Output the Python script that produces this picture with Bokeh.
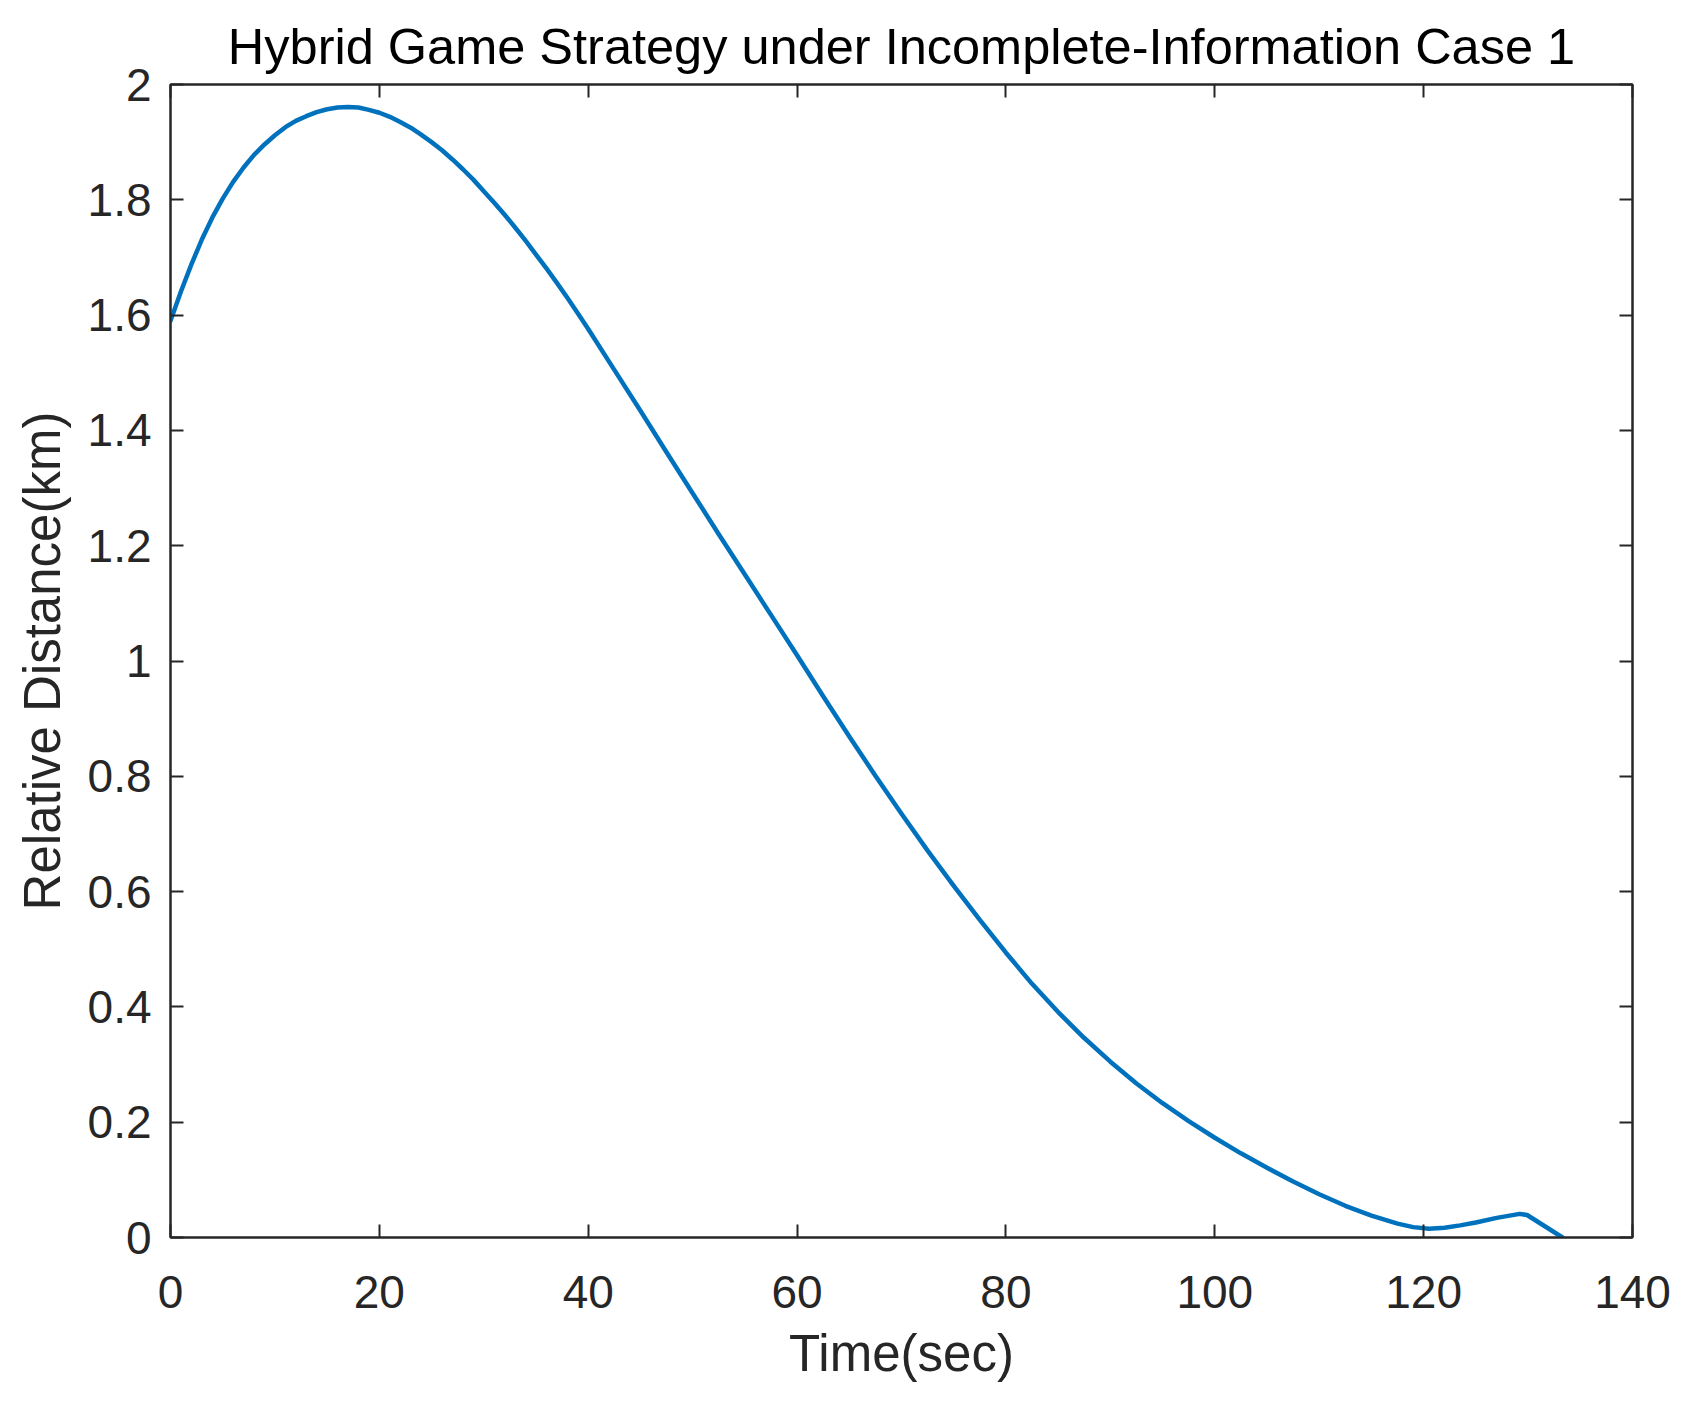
from bokeh.plotting import figure
from bokeh.models import (LinearAxis, FixedTicker, CustomJSTickFormatter, Range1d,
                          ColumnDataSource, Title)
from bokeh.embed import file_html
from bokeh.resources import INLINE

# ---- data ----
time_sec = [0, 1, 2, 3, 4, 5, 6, 7, 8, 9, 10, 11, 12, 13, 14, 15, 16, 17, 18, 19, 20,
            21, 22, 23, 24, 25, 26, 27, 28, 29, 30, 31, 32, 33, 34, 35, 36, 37, 38, 39, 40,
            42.5, 45, 47.5, 50, 52.5, 55, 57.5, 60, 62.5, 65, 67.5, 70, 72.5, 75, 77.5,
            80, 82.5, 85, 87.5, 90, 92.5, 95, 97.5, 100, 102.5, 105, 107.5, 110, 112.5,
            115, 117.5, 119, 120.5, 122, 123.5, 125, 127, 129.2, 129.9, 133.3]
rel_dist_km = [1.590, 1.641, 1.688, 1.731, 1.769, 1.802, 1.831, 1.856, 1.878, 1.896,
               1.912, 1.926, 1.937, 1.945, 1.952, 1.957, 1.960, 1.961, 1.960, 1.956, 1.951,
               1.944, 1.935, 1.925, 1.913, 1.900, 1.886, 1.870, 1.853, 1.835, 1.815,
               1.795, 1.774, 1.752, 1.729, 1.705, 1.681, 1.656, 1.630, 1.603, 1.576,
               1.505, 1.434, 1.362, 1.291, 1.220, 1.150, 1.080, 1.010, 0.939, 0.869,
               0.801, 0.735, 0.671, 0.610, 0.551, 0.494, 0.440, 0.391, 0.346, 0.305,
               0.267, 0.233, 0.202, 0.173, 0.146, 0.121, 0.097, 0.075, 0.055, 0.038,
               0.024, 0.018, 0.015, 0.017, 0.021, 0.026, 0.034, 0.041, 0.039, 0.0]
x_ticks = [0, 20, 40, 60, 80, 100, 120, 140]
y_ticks = [0, 0.2, 0.4, 0.6, 0.8, 1, 1.2, 1.4, 1.6, 1.8, 2]
title_text = "Hybrid Game Strategy under Incomplete-Information Case 1"
x_label = "Time(sec)"
y_label = "Relative Distance(km)"

FONT = "Liberation Sans"
AX = "#262626"
TICK_FS = "46px"
LAB_FS = "51px"
TITLE_FS = "50.5px"

p = figure(frame_width=1462, frame_height=1153,
           min_border_left=170, min_border_right=50,
           min_border_top=84, min_border_bottom=160,
           x_range=Range1d(0, 140), y_range=Range1d(0, 2),
           output_backend="svg", toolbar_location=None,
           background_fill_color="white", border_fill_color="white")

p.title = Title(text=title_text, align="center", text_font=FONT,
                text_font_size=TITLE_FS, text_font_style="normal",
                text_color="#000000", standoff=20)

p.xgrid.visible = False
p.ygrid.visible = False
p.outline_line_color = AX
p.outline_line_width = 2

fmt = CustomJSTickFormatter(code="return String(Math.round(tick*10)/10);")

def style_axis(ax, ticks, show_labels):
    ax.ticker = FixedTicker(ticks=ticks)
    ax.formatter = fmt
    ax.axis_line_color = AX
    ax.axis_line_width = 2
    ax.major_tick_line_color = AX
    ax.major_tick_line_width = 2
    ax.major_tick_in = 13
    ax.major_tick_out = 0
    ax.minor_tick_line_color = None
    ax.major_label_text_font = FONT
    ax.axis_label_text_font = FONT
    ax.axis_label_text_color = AX
    ax.axis_label_text_font_style = "normal"
    ax.axis_label_text_font_size = LAB_FS
    if show_labels:
        ax.major_label_text_font_size = TICK_FS
        ax.major_label_text_color = AX
    else:
        # mirror axes (MATLAB box): ticks only, no labels drawn
        ax.major_label_text_font_size = "0px"
        ax.major_label_text_color = None
        ax.major_label_standoff = 0

xa = p.xaxis[0]
ya = p.yaxis[0]
style_axis(xa, x_ticks, True)
style_axis(ya, y_ticks, True)
xa.axis_label = x_label
ya.axis_label = y_label
xa.major_label_standoff = 38
ya.major_label_standoff = 19
xa.axis_label_standoff = 14
ya.axis_label_standoff = 14

top = LinearAxis()
right = LinearAxis()
style_axis(top, x_ticks, False)
style_axis(right, y_ticks, False)
p.add_layout(top, "above")
p.add_layout(right, "right")

src = ColumnDataSource(data=dict(t=time_sec, d=rel_dist_km))
p.line("t", "d", source=src, line_color="#0072BD", line_width=4.5,
       line_join="round", line_cap="round")

open("out.html", "w").write(file_html(p, INLINE))
